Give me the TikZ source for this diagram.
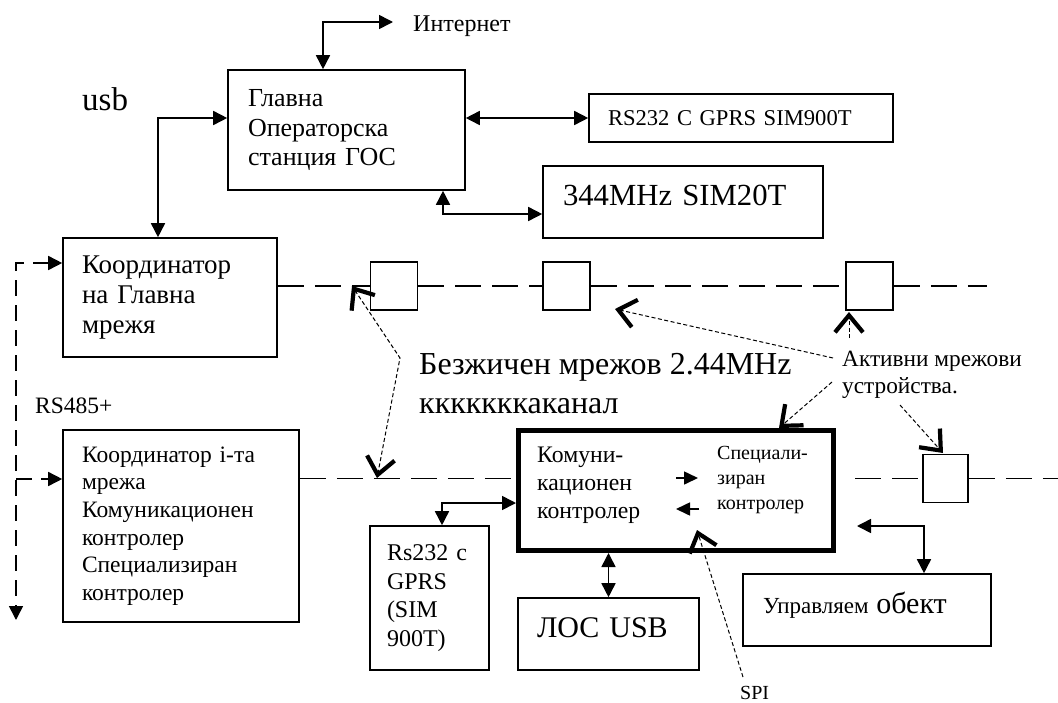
\documentclass[tikz,border=0pt]{standalone}
\usepackage{fontspec}
\setmainfont{Liberation Serif}
\usetikzlibrary{arrows.meta}
\newcommand\myfs[2]{\fontsize{#1}{#2}\selectfont}
\begin{document}
\begin{tikzpicture}[x=1pt,y=-1pt,
  blk/.style={draw, line width=1.6pt, align=left, inner ysep=0pt},
  bwh/.style n args={3}{minimum width=#1pt, minimum height=#2pt, inner xsep=#3pt, text width={#1pt-2*#3pt}},
  sq/.style={draw, line width=1.6pt, minimum width=47pt, minimum height=48pt, inner sep=0pt},
  txt/.style={inner sep=0pt, align=left},
  dbl/.style={line width=1.6pt, {Triangle[length=14pt,width=14pt]}-{Triangle[length=14pt,width=14pt]}},
  one/.style={line width=1.6pt, -{Triangle[length=14pt,width=13pt]}},
  net/.style={line width=1.6pt, dash pattern=on 26pt off 11pt},
  ldash/.style={line width=1.6pt, dash pattern=on 16pt off 9pt},
  dotl/.style={line width=1pt, dash pattern=on 4pt off 2.5pt},
  chv/.style={-{Straight Barb[length=17pt,width=28pt,line width'=4.2pt]}},
  chv2/.style={{Straight Barb[length=17pt,width=28pt,line width'=4.2pt]}-{Straight Barb[length=17pt,width=28pt,line width'=4.2pt]}}
]
\useasboundingbox[fill=white] (0,0) rectangle (1058,702);

% boxes
\node[blk, bwh={237}{120}{20}, font=\myfs{26}{29.5}] (gos) at (346.5,130) {Главна\\Операторска\\станция ГОС};
\node[blk, bwh={304}{48}{19}, font=\myfs{22.6}{26}] (rsc) at (741,118) {RS232 C GPRS SIM900T};
\node[blk, bwh={280}{72}{20}, font=\myfs{30.7}{34}, text depth=14pt] (mhz) at (683,202) {344MHz SIM20T};
\node[blk, bwh={214}{119}{19}, font=\myfs{27}{30}] (km) at (170,297.5) {Координатор\\на Главна\\мрежя};
\node[blk, bwh={236}{192}{19}, font=\myfs{23.5}{27.6}] (ki) at (181,526) {Координатор і-та\\мрежа\\Комуникационен\\контролер\\Специализиран\\контролер};
\node[blk, bwh={119}{144}{17}, font=\myfs{24}{28.5}] (rsg) at (429.5,598) {Rs232 с\\GPRS\\(SIM\\900T)};
\node[blk, bwh={181}{72}{19}, font=\myfs{30}{34}, text depth=12pt] (los) at (608.5,634) {ЛОС USB};
\node[blk, bwh={248}{72}{20}, font=\myfs{23}{26}, text depth=15pt] (upr) at (867,610) {Управляем {\myfs{30}{34}обект}};
\node[draw, line width=5pt, minimum width=315pt, minimum height=120pt, inner sep=0pt] (big) at (676,490.5) {};
\node[txt, font=\myfs{23.7}{28}, anchor=north west] (bl) at (537,446.5) {Комуни-\\кационен\\контролер};
\node[txt, font=\myfs{20}{25}, anchor=north west] (br) at (717,446.5) {Специали-\\зиран\\контролер};

% network squares
\node[sq] (s1) at (394,286) {};
\node[sq] (s2) at (566.5,286) {};
\node[sq] (s3) at (869.5,286) {};
\node[sq, minimum width=45pt] (s4) at (945.5,478.5) {};

% free texts
\node[txt, font=\myfs{24}{28}, anchor=base west] (inet) at (413,31) {Интернет};
\node[txt, font=\myfs{33}{36}, anchor=base west] (usb) at (82,110) {usb};
\node[txt, font=\myfs{32}{39}, anchor=north west] (wifi) at (419,353.5) {Безжичен мрежов 2.44MHz\\кккккккаканал};
\node[txt, font=\myfs{23.3}{27}, anchor=north west] (akt) at (842,351) {Активни мрежови\\устройства.};
\node[txt, font=\myfs{23.5}{26}, anchor=base west] (rs485) at (35,413) {RS485+};
\node[txt, font=\myfs{20}{24}, anchor=base west] (spi) at (740,699) {SPI};

% coordinates
\coordinate (u1) at (158,118);
\coordinate (i1) at (323,22);
\coordinate (i2) at (393,22);
\coordinate (m1) at (443,214);
\coordinate (l1) at (16,263);
\coordinate (l2) at (16,620);
\coordinate (l3) at (16,479);
\coordinate (n1e) at (987,286);
\coordinate (n2s) at (855,478.5);
\coordinate (n2e) at (1058,478.5);
\coordinate (r1) at (442,503);
\coordinate (p1) at (924,526);
\coordinate (p2) at (857,526);
\coordinate (ar1s) at (676,478);
\coordinate (ar1e) at (698,478);
\coordinate (ar2s) at (699,509);
\coordinate (ar2e) at (676,509);
\coordinate (a1s) at (833,358);
\coordinate (a1t) at (615,309);
\coordinate (a2s) at (849,338);
\coordinate (a2t) at (849,312);
\coordinate (a3s) at (832,382);
\coordinate (a3t) at (779,428);
\coordinate (a4s) at (900,405);
\coordinate (a4t) at (943,453);
\coordinate (sps) at (743,677);
\coordinate (spt) at (697,530);
\coordinate (k1) at (352,286);
\coordinate (k2) at (400,358);
\coordinate (k3) at (377,478);

% solid connectors
\draw[dbl] (u1 |- km.north) -- (u1) -- (u1 -| gos.west);
\draw[dbl] (i1 |- gos.north) -- (i1) -- (i2);
\draw[dbl] (gos.east |- rsc.west) -- (rsc.west);
\draw[dbl] (m1 |- gos.south) -- (m1) -- (m1 -| mhz.west);
\draw[dbl] (r1 |- rsg.north) -- (r1) -- (r1 -| big.west);
\draw[dbl] (big.south -| los.north) -- (los.north);
\draw[dbl] (p2) -- (p1) -- (p1 |- upr.north);
\draw[one] (ar1s) -- (ar1e);
\draw[one] (ar2s) -- (ar2e);

% RS485 dashed
\draw[ldash, {Triangle[length=14pt,width=14pt]}-{Triangle[length=14pt,width=14pt]}] (l1 -| km.west) -- (l1) -- (l2);
\draw[ldash, -{Triangle[length=14pt,width=14pt]}] (l3) -- (l3 -| ki.west);

% network lines
\draw[net] (s1.west -| km.east) -- (s1.west);
\draw[net] (s1.east) -- (s2.west);
\draw[net] (s2.east) -- (s3.west);
\draw[net] (s3.east) -- (n1e);
\draw[net] (s4.west -| ki.east) -- (s4.west -| big.west);
\draw[net] (n2s) -- (s4.west);
\draw[net] (s4.east) -- (n2e);

% dotted pointer arrows
\draw[dotl, chv] (a1s) -- (a1t);
\draw[dotl, chv] (a2s) -- (a2t);
\draw[dotl, chv] (a3s) -- (a3t);
\draw[dotl, chv] (a4s) -- (a4t);
\draw[dotl, chv] (sps) -- (spt);
\draw[dotl, chv2] (k1) -- (k2) -- (k3);
\end{tikzpicture}
\end{document}
